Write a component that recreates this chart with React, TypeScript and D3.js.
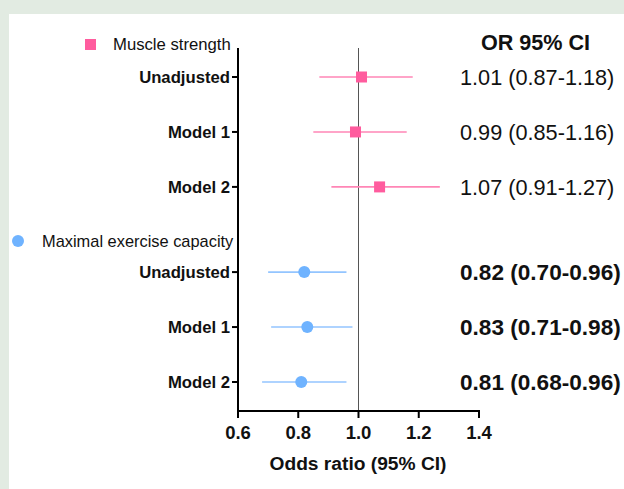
import React from "react";
import * as d3 from "d3";

const groups = ["Muscle strength", "Maximal exercise capacity"];
const models = ["Unadjusted", "Model 1", "Model 2"];
const msOR = [1.01, 0.99, 1.07];
const msLo = [0.87, 0.85, 0.91];
const msHi = [1.18, 1.16, 1.27];
const mecOR = [0.82, 0.83, 0.81];
const mecLo = [0.70, 0.71, 0.68];
const mecHi = [0.96, 0.98, 0.96];
const xTicks = [0.6, 0.8, 1.0, 1.2, 1.4];

const W = 624, H = 489;
const PINK = "#ff5c9e";
const PINK_L = "#ff86b6";
const BLUE = "#6fb3ff";
const BLUE_L = "#93c5ff";
const FONT = "'Liberation Sans', Arial, sans-serif";

export default function App() {
  const x = d3.scaleLinear().domain([0.6, 1.4]).range([238, 479]);
  // row slots: group 1 rows 0..2, group 2 rows 3.55..5.55
  const slotY = d3.scaleLinear().domain([0, 5.55]).range([77, 382]);
  const rows = [
    ...models.map((m, i) => ({ label: m, or: msOR[i], lo: msLo[i], hi: msHi[i], slot: i, g: 0 })),
    ...models.map((m, i) => ({ label: m, or: mecOR[i], lo: mecLo[i], hi: mecHi[i], slot: 3.55 + i, g: 1 })),
  ];
  const fmt = d3.format(".2f");
  const axisY = 411;
  const topY = 48;
  return (
    <svg width={W} height={H} style={{ position: "absolute", left: 0, top: 0 }} fontFamily={FONT}>
      <rect x={0} y={0} width={W} height={H} fill="#e2ebe2" />
      <rect x={9} y={14} width={W - 9} height={H - 14} fill="#ffffff" />
      {/* reference line */}
      <line x1={x(1)} x2={x(1)} y1={topY} y2={axisY} stroke="#555" strokeWidth={1} />
      {/* y axis */}
      <line x1={238} x2={238} y1={topY} y2={axisY + 1} stroke="#000" strokeWidth={2} />
      {rows.map((r, i) => (
        <g key={"yl" + i}>
          <line x1={232} x2={238} y1={slotY(r.slot)} y2={slotY(r.slot)} stroke="#000" strokeWidth={2} />
          <text x={230} y={slotY(r.slot)} dy="0.36em" textAnchor="end" fontWeight="bold" fontSize={16.7} fill="#111">{r.label}</text>
        </g>
      ))}
      {/* x axis */}
      <line x1={237} x2={x(1.4) + 1} y1={axisY} y2={axisY} stroke="#000" strokeWidth={2} />
      {xTicks.map((t) => (
        <g key={"xt" + t}>
          <line x1={x(t)} x2={x(t)} y1={axisY} y2={axisY + 7} stroke="#000" strokeWidth={2} />
          <text x={x(t)} y={439} textAnchor="middle" fontWeight="bold" fontSize={18.5} fill="#111">{t.toFixed(1)}</text>
        </g>
      ))}
      <text x={358} y={470} textAnchor="middle" fontWeight="bold" fontSize={19.2} fill="#111">Odds ratio (95% CI)</text>
      {/* legends */}
      <rect x={85} y={39} width={11} height={11} fill={PINK} />
      <text x={113} y={44} dy="0.36em" fontSize={16.7} fill="#111">{groups[0]}</text>
      <circle cx={18} cy={241} r={6} fill={BLUE} />
      <text x={42} y={241} dy="0.36em" fontSize={16.4} fill="#111">{groups[1]}</text>
      {/* marks */}
      {rows.map((r, i) => {
        const y = slotY(r.slot);
        return (
          <g key={"m" + i}>
            <line x1={x(r.lo)} x2={x(r.hi)} y1={y} y2={y} stroke={r.g === 0 ? PINK_L : BLUE_L} strokeWidth={1.6} />
            {r.g === 0 ? (
              <rect x={x(r.or) - 5.5} y={y - 5.5} width={11} height={11} fill={PINK} />
            ) : (
              <circle cx={x(r.or)} cy={y} r={6} fill={BLUE} />
            )}
          </g>
        );
      })}
      {/* right column */}
      <text x={535.5} y={42} dy="0.36em" textAnchor="middle" fontWeight="bold" fontSize={21.6} fill="#111">OR 95% CI</text>
      {rows.map((r, i) => (
        <text key={"v" + i} x={460} y={slotY(r.slot)} dy="0.36em" fontSize={r.g === 1 ? 22.6 : 21.7} fontWeight={r.g === 1 ? "bold" : "normal"} fill="#111">
          {`${fmt(r.or)} (${fmt(r.lo)}-${fmt(r.hi)})`}
        </text>
      ))}
    </svg>
  );
}
